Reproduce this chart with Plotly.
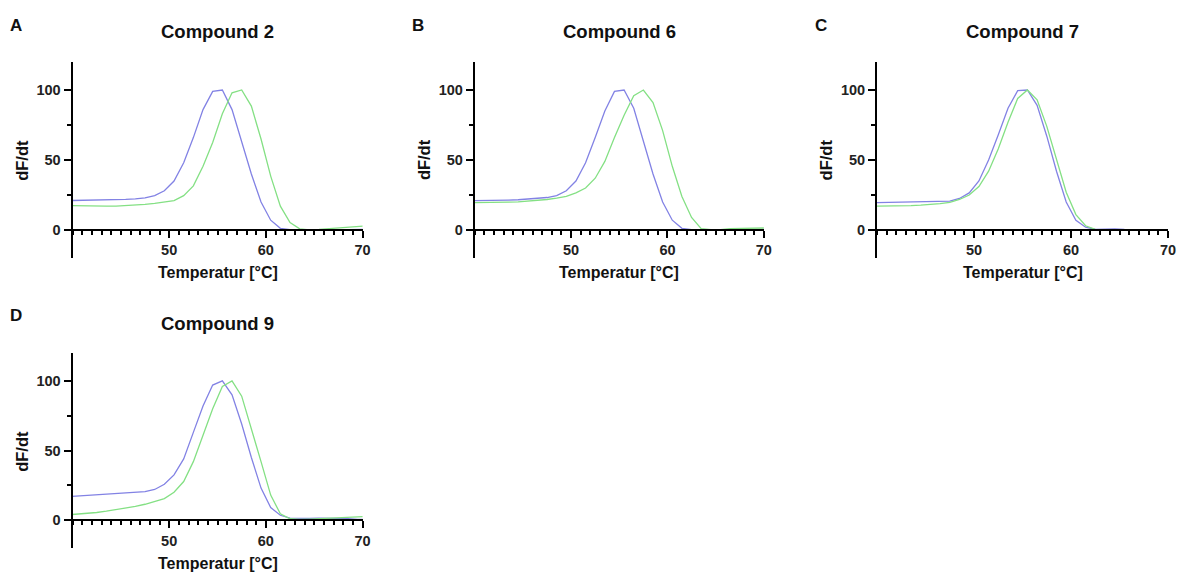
import plotly.graph_objects as go

# ---- data ----
temps = [39.5, 40.5, 41.5, 42.5, 43.5, 44.5, 45.5, 46.5, 47.5, 48.5, 49.5, 50.5,
         51.5, 52.5, 53.5, 54.5, 55.5, 56.5, 57.5, 58.5, 59.5, 60.5, 61.5, 62.5,
         63.5, 64.5, 65.5, 66.5, 67.5, 68.5, 69.5, 70.5]

titles = ["Compound 2", "Compound 6", "Compound 7", "Compound 9"]
letters = ["A", "B", "C", "D"]

a_blue = [21.0, 21.1, 21.2, 21.3, 21.4, 21.6, 21.9, 22.3, 23.0, 24.5, 28.0, 35.0,
          48.0, 66.0, 86.0, 99.0, 100.0, 86.0, 63.0, 40.0, 20.0, 7.0, 1.2, 0.3,
          0.1, 0.0, 0.0, 0.1, 0.2, 0.3, 0.4, 0.5]
a_green = [17.5, 17.3, 17.1, 17.0, 17.0, 17.1, 17.4, 17.8, 18.3, 19.0, 19.8, 21.0,
           24.5, 31.5, 45.5, 62.5, 83.0, 98.0, 100.0, 88.5, 65.0, 38.5, 17.0, 5.3,
           0.8, 0.1, 0.4, 0.9, 1.4, 1.9, 2.5, 3.0]

b_blue = [21.0, 21.0, 21.1, 21.2, 21.4, 21.6, 22.0, 22.5, 23.2, 24.5, 28.0, 35.0,
          48.0, 66.0, 85.0, 99.0, 100.0, 87.0, 63.0, 40.0, 20.0, 7.0, 1.2, 0.3,
          0.1, 0.0, 0.0, 0.1, 0.2, 0.3, 0.4, 0.5]
b_green = [19.5, 19.5, 19.6, 19.7, 19.9, 20.1, 20.5, 21.0, 21.8, 22.8, 24.0, 26.5,
           30.0, 37.0, 49.0, 66.0, 82.0, 96.0, 100.0, 91.0, 71.0, 45.5, 24.0, 9.0,
           1.0, 0.3, 0.3, 1.0, 1.2, 1.4, 1.5, 1.5]

c_blue = [19.5, 19.6, 19.7, 19.8, 19.9, 20.0, 20.1, 20.2, 20.6, 22.5, 26.5, 35.0,
          50.0, 68.0, 87.0, 99.5, 100.0, 89.0, 67.0, 42.0, 20.0, 7.0, 2.0, 0.5,
          0.7, 0.8, 0.5, 0.3, 0.2, 0.2, 0.2, 0.2]
c_green = [17.0, 17.0, 17.1, 17.2, 17.4, 17.7, 18.2, 18.9, 19.8, 21.8, 25.0, 31.0,
           42.0, 58.0, 77.0, 94.0, 100.0, 93.0, 74.0, 50.0, 27.0, 11.0, 3.0, 0.5,
           0.3, 0.3, 0.3, 0.3, 0.3, 0.3, 0.3, 0.3]

d_blue = [16.8, 17.2, 17.6, 18.0, 18.4, 18.8, 19.3, 19.8, 20.5, 22.0, 25.8, 32.5,
          44.0, 63.0, 82.0, 97.0, 100.0, 90.0, 69.0, 45.0, 23.0, 9.0, 3.5, 1.5,
          1.2, 1.3, 1.5, 1.5, 1.3, 1.0, 0.6, 0.5]
d_green = [3.8, 4.2, 4.8, 5.5, 6.4, 7.4, 8.6, 9.9, 11.4, 13.2, 15.5, 20.0,
           27.7, 42.0, 61.0, 80.0, 96.0, 100.0, 89.0, 66.0, 42.0, 18.0, 4.5, 1.0,
           0.5, 0.7, 1.0, 1.3, 1.6, 2.0, 2.4, 2.7]

blue_series = [a_blue, b_blue, c_blue, d_blue]
green_series = [a_green, b_green, c_green, d_green]

x_ticks = [50, 60, 70]
y_ticks = [0, 50, 100]
y_minor = [25, 75]
x_range = [40, 70]
y_range = [-20, 120]

# ---- layout geometry (pixels) ----
W, H = 1185, 572
FONT = "Liberation Sans, Arial, sans-serif"
BLUE = "#8282e4"
GREEN = "#84e084"

panels = [
    dict(x0=73, x1=365, top=62, bottom=258, letter_x=16, letter_y=25),
    dict(x0=478, x1=769, top=62, bottom=258, letter_x=421, letter_y=25),
    dict(x0=883, x1=1176, top=62, bottom=258, letter_x=827, letter_y=25),
    dict(x0=73, x1=365, top=353, bottom=548, letter_x=16, letter_y=315),
]


def fx(px):
    return px / W


def fy(py):
    return 1 - py / H


fig = go.Figure()
annotations = []
for i, p in enumerate(panels):
    n = "" if i == 0 else str(i + 1)
    xd = [fx(p["x0"]), fx(p["x1"])]
    yd = [fy(p["bottom"]), fy(p["top"])]
    zero_frac = (0 - y_range[0]) / (y_range[1] - y_range[0])
    xpos = yd[0] + zero_frac * (yd[1] - yd[0])

    fig.add_trace(go.Scatter(x=temps, y=blue_series[i], mode="lines",
                             line=dict(color=BLUE, width=1.3),
                             xaxis="x" + n, yaxis="y" + n, showlegend=False))
    fig.add_trace(go.Scatter(x=temps, y=green_series[i], mode="lines",
                             line=dict(color=GREEN, width=1.3),
                             xaxis="x" + n, yaxis="y" + n, showlegend=False))

    fig.update_layout({
        "xaxis" + n: dict(domain=xd, range=x_range, anchor="free", position=xpos,
                          showgrid=False, zeroline=False, showline=True,
                          linecolor="black", linewidth=2,
                          ticks="outside", ticklen=7, tickwidth=2, tickcolor="black",
                          tickmode="array", tickvals=x_ticks,
                          tickfont=dict(family=FONT, size=14.5, color="#222222", weight="bold"),
                          minor=dict(dtick=1, tick0=40, ticklen=4, tickwidth=1.5,
                                     tickcolor="black", ticks="outside", showgrid=False),
                          fixedrange=True),
        "yaxis" + n: dict(domain=yd, range=y_range, anchor="x" + n,
                          showgrid=False, zeroline=False, showline=True,
                          linecolor="black", linewidth=2,
                          ticks="outside", ticklen=7, tickwidth=2, tickcolor="black",
                          tickmode="array", tickvals=y_ticks,
                          tickfont=dict(family=FONT, size=14.5, color="#222222", weight="bold"),
                          minor=dict(tickmode="array", tickvals=y_minor, ticklen=4,
                                     tickwidth=2, tickcolor="black", ticks="outside",
                                     showgrid=False),
                          fixedrange=True),
    })

    cx = (p["x0"] + p["x1"]) / 2
    annotations.append(dict(text=titles[i], x=fx(cx), y=fy(p["top"] - 30),
                            xref="paper", yref="paper", showarrow=False,
                            xanchor="center", yanchor="middle",
                            font=dict(family=FONT, size=18.5, color="#111111", weight="bold")))
    annotations.append(dict(text=letters[i], x=fx(p["letter_x"]), y=fy(p["letter_y"]),
                            xref="paper", yref="paper", showarrow=False,
                            xanchor="center", yanchor="middle",
                            font=dict(family=FONT, size=17, color="#111111", weight="bold")))
    annotations.append(dict(text="Temperatur [°C]", x=fx(cx), y=fy(p["top"] + 210),
                            xref="paper", yref="paper", showarrow=False,
                            xanchor="center", yanchor="middle",
                            font=dict(family=FONT, size=16, color="#111111", weight="bold")))
    annotations.append(dict(text="dF/dt", x=fx(p["x0"] - 51), y=fy(p["top"] + 98),
                            xref="paper", yref="paper", showarrow=False, textangle=-90,
                            xanchor="center", yanchor="middle",
                            font=dict(family=FONT, size=16.5, color="#111111", weight="bold")))

fig.update_layout(width=W, height=H, margin=dict(l=0, r=0, t=0, b=0),
                  paper_bgcolor="white", plot_bgcolor="white",
                  annotations=annotations, showlegend=False)

fig.write_html("out.html", config={"displayModeBar": False},
               post_script="document.body.style.margin='0';document.body.style.padding='0';")
